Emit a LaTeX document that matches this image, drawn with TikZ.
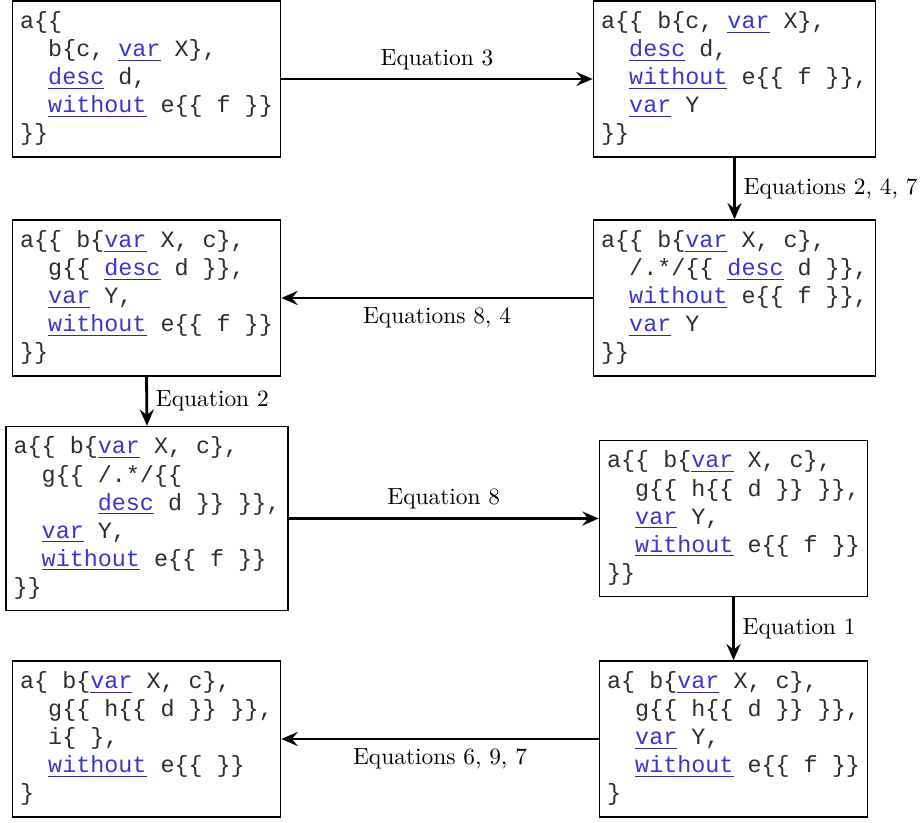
\documentclass[tikz,border=0pt]{standalone}
\usepackage{fontspec}
\newfontfamily\codefont{Liberation Mono}
\usetikzlibrary{arrows.meta}
\definecolor{kwc}{RGB}{55,55,205}
\definecolor{kwline}{RGB}{45,45,140}
\definecolor{txt}{RGB}{45,45,45}
\newcommand\kw[1]{\textcolor{kwline}{\underline{\textcolor{kwc}{#1}}}}
\newcommand\ind[1]{\hphantom{#1}}
\begin{document}
\begin{tikzpicture}[x=0.4275pt,y=-0.4275pt,
  box/.style={draw, line width=0.6pt, align=left, text=txt,
    font=\codefont\fontsize{10}{12}\selectfont, inner sep=3.33pt},
  arr/.style={-{Stealth[length=7pt,width=6pt,inset=2.5pt]}, line width=1.2pt},
  lab/.style={font=\fontsize{10}{12}\selectfont, text=black}]
\useasboundingbox (0,0) rectangle (924,823);

\node[box] (b1) at (146.5,79) {\strut a\{\{\\
\strut\ind{xx}b\{c, \kw{var} X\},\\
\strut\ind{xx}\kw{desc} d,\\
\strut\ind{xx}\kw{without} e\{\{ f \}\}\\
\strut\}\}};

\node[box] (b2) at (734.5,79) {\strut a\{\{ b\{c, \kw{var} X\},\\
\strut\ind{xx}\kw{desc} d,\\
\strut\ind{xx}\kw{without} e\{\{ f \}\},\\
\strut\ind{xx}\kw{var} Y\\
\strut\}\}};

\node[box] (b3) at (146.5,298) {\strut a\{\{ b\{\kw{var} X, c\},\\
\strut\ind{xx}g\{\{ \kw{desc} d \}\},\\
\strut\ind{xx}\kw{var} Y,\\
\strut\ind{xx}\kw{without} e\{\{ f \}\}\\
\strut\}\}};

\node[box] (b4) at (734.5,298) {\strut a\{\{ b\{\kw{var} X, c\},\\
\strut\ind{xx}/.*/\{\{ \kw{desc} d \}\},\\
\strut\ind{xx}\kw{without} e\{\{ f \}\},\\
\strut\ind{xx}\kw{var} Y\\
\strut\}\}};

\node[box] (b5) at (147,518.5) {\strut a\{\{ b\{\kw{var} X, c\},\\
\strut\ind{xx}g\{\{ /.*/\{\{\\
\strut\ind{xxxxxx}\kw{desc} d \}\} \}\},\\
\strut\ind{xx}\kw{var} Y,\\
\strut\ind{xx}\kw{without} e\{\{ f \}\}\\
\strut\}\}};

\node[box] (b6) at (733.5,518.5) {\strut a\{\{ b\{\kw{var} X, c\},\\
\strut\ind{xx}g\{\{ h\{\{ d \}\} \}\},\\
\strut\ind{xx}\kw{var} Y,\\
\strut\ind{xx}\kw{without} e\{\{ f \}\}\\
\strut\}\}};

\node[box] (b7) at (146.5,739) {\strut a\{ b\{\kw{var} X, c\},\\
\strut\ind{xx}g\{\{ h\{\{ d \}\} \}\},\\
\strut\ind{xx}i\{ \},\\
\strut\ind{xx}\kw{without} e\{\{ \}\}\\
\strut\}};

\node[box] (b8) at (733.5,739) {\strut a\{ b\{\kw{var} X, c\},\\
\strut\ind{xx}g\{\{ h\{\{ d \}\} \}\},\\
\strut\ind{xx}\kw{var} Y,\\
\strut\ind{xx}\kw{without} e\{\{ f \}\}\\
\strut\}};

\draw[arr] (b1.east) -- node[lab,above] {Equation 3} (b2.west);
\draw[arr] (b2.south) -- node[lab,right] {Equations 2, 4, 7} (b4.north);
\draw[arr] (b4.west) -- node[lab,below] {Equations 8, 4} (b3.east);
\draw[arr] (b3.south) -- node[lab,right] {Equation 2} (b5.north);
\draw[arr] (b5.east) -- node[lab,above] {Equation 8} (b6.west);
\draw[arr] (b6.south) -- node[lab,right] {Equation 1} (b8.north);
\draw[arr] (b8.west) -- node[lab,below] {Equations 6, 9, 7} (b7.east);
\end{tikzpicture}
\end{document}
